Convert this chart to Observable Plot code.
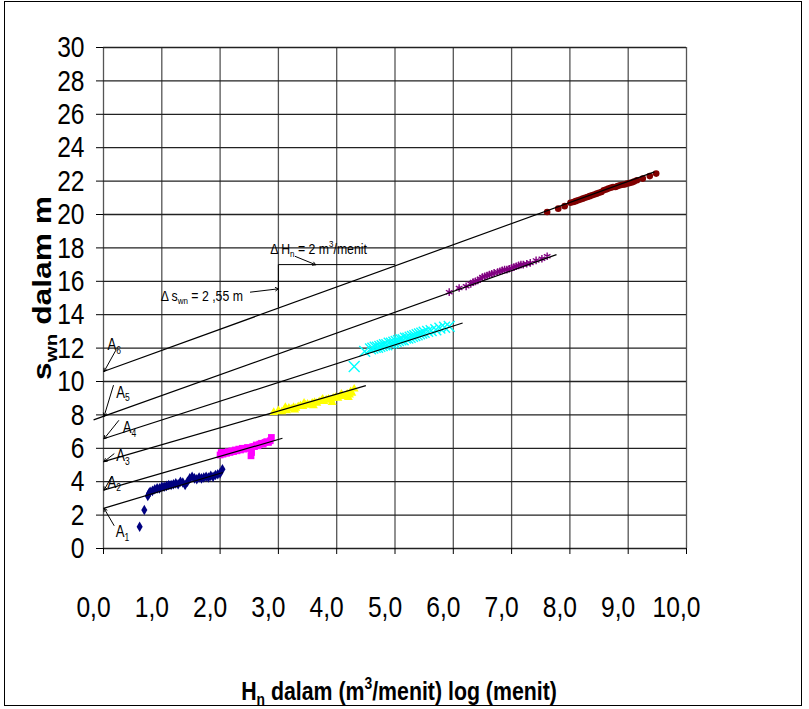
<!DOCTYPE html>
<html><head><meta charset="utf-8">
<script src="https://cdn.jsdelivr.net/npm/d3@7"></script>
<script src="https://cdn.jsdelivr.net/npm/@observablehq/plot@0.6"></script>
<style>body{margin:0;background:#fff}</style>
</head><body><div id="chart"></div>
<script>
// ---- axes ----
const xTicks = [0,1,2,3,4,5,6,7,8,9,10];
const xTickLabels = ["0,0","1,0","2,0","3,0","4,0","5,0","6,0","7,0","8,0","9,0","10,0"];
const yTicks = [0,2,4,6,8,10,12,14,16,18,20,22,24,26,28,30];
const xTitle = "H_{n} dalam (m^{3}/menit) log (menit)";
const yTitle = "s_{wn} dalam m";

// ---- measured series (H_n, s_wn) ----
const seriesA1 = [[0.62,1.3],[0.70,2.3],[0.76,3.15],[0.78,3.3],[0.80,3.4],[0.84,3.45],[0.88,3.55],[0.92,3.6],[0.96,3.6],[1.00,3.7],[1.04,3.7],[1.08,3.75],[1.12,3.8],[1.16,3.8],[1.20,3.85],[1.24,3.9],[1.28,3.85],[1.32,4.0],[1.36,3.95],[1.40,3.8],[1.44,4.0],[1.48,4.2],[1.52,4.3],[1.56,4.2],[1.60,4.15],[1.64,4.25],[1.68,4.2],[1.72,4.25],[1.76,4.3],[1.80,4.25],[1.84,4.35],[1.88,4.3],[1.92,4.4],[1.96,4.45],[2.00,4.5],[2.04,4.75]];
const seriesA2 = [[2.00,5.6],[2.02,5.75],[2.05,5.65],[2.08,5.75],[2.11,5.7],[2.14,5.8],[2.17,5.75],[2.20,5.85],[2.23,5.8],[2.26,5.9],[2.29,5.85],[2.32,5.95],[2.35,5.9],[2.38,6.0],[2.41,5.95],[2.44,6.0],[2.47,6.05],[2.50,6.0],[2.53,5.55],[2.54,5.75],[2.56,6.1],[2.59,6.1],[2.62,6.2],[2.65,6.15],[2.68,6.25],[2.71,6.3],[2.74,6.25],[2.77,6.35],[2.80,6.4],[2.83,6.35],[2.86,6.45],[2.88,6.65]];
const seriesA3 = [[2.92,8.15],[3.00,8.25],[3.06,8.2],[3.10,8.3],[3.12,8.45],[3.14,8.25],[3.18,8.4],[3.22,8.35],[3.26,8.45],[3.28,8.3],[3.30,8.4],[3.34,8.5],[3.38,8.55],[3.42,8.5],[3.44,8.7],[3.46,8.6],[3.50,8.65],[3.54,8.6],[3.58,8.7],[3.60,8.55],[3.62,8.75],[3.66,8.7],[3.70,8.8],[3.74,8.85],[3.76,8.95],[3.78,8.8],[3.82,8.9],[3.86,8.95],[3.90,8.9],[3.92,8.75],[3.94,9.0],[3.98,9.05],[4.02,9.0],[4.06,9.1],[4.08,9.25],[4.10,9.15],[4.14,9.1],[4.18,9.25],[4.20,9.05],[4.22,9.2],[4.24,9.4],[4.26,9.3],[4.30,9.55]];
const seriesA4 = [[4.30,10.9],[4.48,11.8],[4.58,11.95],[4.62,12.0],[4.66,12.05],[4.70,12.05],[4.74,12.1],[4.78,12.15],[4.82,12.2],[4.86,12.2],[4.90,12.3],[4.94,12.3],[4.98,12.35],[5.02,12.4],[5.06,12.45],[5.10,12.5],[5.14,12.5],[5.18,12.6],[5.22,12.6],[5.26,12.65],[5.30,12.7],[5.34,12.75],[5.38,12.8],[5.42,12.85],[5.46,12.9],[5.50,12.95],[5.56,13.0],[5.62,13.05],[5.70,13.1],[5.77,13.2],[5.85,13.25],[5.93,13.3]];
const seriesA5 = [[5.93,15.35],[6.10,15.6],[6.22,15.7],[6.30,15.85],[6.34,15.95],[6.38,16.0],[6.42,16.05],[6.46,16.15],[6.50,16.25],[6.54,16.3],[6.58,16.35],[6.62,16.4],[6.66,16.45],[6.70,16.5],[6.76,16.55],[6.80,16.6],[6.84,16.65],[6.88,16.7],[6.92,16.7],[6.96,16.75],[7.00,16.8],[7.04,16.85],[7.08,16.9],[7.12,16.95],[7.16,17.0],[7.20,17.0],[7.26,17.05],[7.32,17.1],[7.42,17.25],[7.52,17.35],[7.61,17.5]];
const seriesA6 = [[7.61,20.15],[7.80,20.35],[7.91,20.5],[8.01,20.7],[8.06,20.75],[8.10,20.8],[8.14,20.85],[8.18,20.9],[8.22,20.95],[8.26,21.0],[8.30,21.05],[8.34,21.1],[8.38,21.15],[8.42,21.2],[8.46,21.25],[8.50,21.3],[8.54,21.35],[8.58,21.45],[8.62,21.5],[8.66,21.55],[8.70,21.6],[8.74,21.65],[8.78,21.65],[8.82,21.7],[8.86,21.75],[8.90,21.78],[8.94,21.8],[8.98,21.85],[9.02,21.88],[9.06,21.92],[9.10,21.97],[9.15,22.05],[9.25,22.15],[9.37,22.3],[9.48,22.45]];

const seriesColors = ["#000080","#FF00FF","#FFFF00","#00FFFF","#800080","#800000"];
const seriesSymbols = ["diamond","square","triangle","times","asterisk","circle"];

// ---- trend lines A1..A6 (start / end points) ----
const trendNames = ["A1","A2","A3","A4","A5","A6"];
const trendX1 = [0, 0, 0, 0, -0.17, 0];
const trendY1 = [2.4, 3.5, 5.2, 6.57, 7.7, 10.6];
const trendX2 = [2.05, 3.07, 4.5, 6.16, 7.77, 9.45];
const trendY2 = [4.55, 6.6, 9.75, 13.5, 17.6, 22.55];
const intercepts = [2.4, 3.5, 5.2, 6.57, 7.92, 10.6];

// ---- annotation labels (data units) ----
const aLabels = ["A_{1}","A_{2}","A_{3}","A_{4}","A_{5}","A_{6}"];
const aLabelX = [0.21, 0.07, 0.22, 0.33, 0.22, 0.07];
const aLabelY = [0.66, 3.65, 5.21, 6.89, 9.04, 11.86];
const aArrowX = [0.18, 0.14, 0.18, 0.26, 0.17, 0.21];
const aArrowY = [1.38, 4.31, 5.67, 7.66, 9.76, 11.86];

const deltaTexts = ["Δ H_{n} = 2 m^{3}/menit", "Δ s_{wn} = 2 ,55 m"];
const deltaTextX = [2.86, 0.98];
const deltaTextY = [17.66, 14.85];
const deltaArrows = [{x1:3.29,y1:17.49,x2:3.64,y2:16.99},{x1:2.52,y1:15.35,x2:3.0,y2:15.55}];
const deltaH = {x1:3, x2:5, y:17.0};
const deltaS = {x:3, y1:17.0, y2:14.45};

const FONT = '"Liberation Sans",Arial,sans-serif';
const NARROW = 0.82;
const TITLE_STRETCH = 1.22;

const allSeries = [seriesA1,seriesA2,seriesA3,seriesA4,seriesA5,seriesA6];
const dotMarks = allSeries.map((s, i) => {
  const stroked = seriesSymbols[i] === "times" || seriesSymbols[i] === "asterisk";
  const r = {diamond:3.2, square:3.8, triangle:3.3, times:5, asterisk:3.6, circle:3.3}[seriesSymbols[i]];
  return Plot.dot(s, {x: d => d[0], y: d => d[1], symbol: seriesSymbols[i], r,
    fill: stroked ? "none" : seriesColors[i], stroke: stroked ? seriesColors[i] : "none", strokeWidth: 1.4});
});

const trends = trendNames.map((n, i) => ({x1: trendX1[i], y1: trendY1[i], x2: trendX2[i], y2: trendY2[i]}));
const aLab = aLabels.map((t, i) => ({t, x: aLabelX[i], y: aLabelY[i]}));
const aArr = aLabels.map((t, i) => ({x1: aArrowX[i], y1: aArrowY[i], x2: 0.01, y2: intercepts[i]}));
const dTxt = deltaTexts.map((t, i) => ({t, x: deltaTextX[i], y: deltaTextY[i]}));

const chart = Plot.plot({
  width: 809, height: 709,
  marginLeft: 103, marginRight: 123, marginTop: 47, marginBottom: 161,
  x: {domain: [0, 10], axis: null},
  y: {domain: [0, 30], axis: null},
  style: {fontFamily: FONT, fontSize: "30px", background: "white", color: "black", overflow: "visible"},
  marks: [
    Plot.ruleX(xTicks, {stroke: "#555", strokeWidth: 1.3}),
    Plot.ruleY(yTicks, {stroke: "#222", strokeWidth: 1.3}),
    Plot.axisY(yTicks, {tickSize: 7, tickPadding: 12, fontSize: 30, label: null}),
    Plot.axisX(xTicks, {tickSize: 6, tickFormat: () => "", label: null}),
    Plot.text(xTicks, {x: d => d, text: (d, i) => xTickLabels[i], frameAnchor: "bottom", lineAnchor: "top", dy: 47, dx: -10, fontSize: 30}),
    ...dotMarks,
    Plot.link(trends, {x1: "x1", y1: "y1", x2: "x2", y2: "y2", stroke: "black", strokeWidth: 1.2}),
    Plot.link([deltaH], {x1: "x1", x2: "x2", y1: "y", y2: "y", stroke: "black", strokeWidth: 1}),
    Plot.link([deltaS], {x1: "x", x2: "x", y1: "y1", y2: "y2", stroke: "black", strokeWidth: 1}),
    Plot.arrow(aArr, {x1: "x1", y1: "y1", x2: "x2", y2: "y2", stroke: "black", strokeWidth: 1, headLength: 5}),
    Plot.arrow(deltaArrows, {x1: "x1", y1: "y1", x2: "x2", y2: "y2", stroke: "black", strokeWidth: 1, headLength: 5}),
    Plot.text(aLab, {x: "x", y: "y", text: "t", textAnchor: "start", lineAnchor: "bottom", fontSize: 16}),
    Plot.text(dTxt, {x: "x", y: "y", text: "t", textAnchor: "start", lineAnchor: "bottom", fontSize: 15}),
    Plot.text([xTitle], {text: d => d, frameAnchor: "bottom", textAnchor: "middle", lineAnchor: "bottom", dy: 151, dx: 4, fontSize: 26, fontWeight: "bold"}),
    Plot.text([yTitle], {text: d => d, frameAnchor: "left", textAnchor: "middle", lineAnchor: "middle", rotate: -90, dx: -61, dy: -10, fontSize: 26, fontWeight: "bold"})
  ]
});

document.getElementById("chart").appendChild(chart);

// outer border
d3.select(chart).append("rect").attr("x", 4.5).attr("y", 1.5).attr("width", 797).attr("height", 704)
  .attr("fill", "none").attr("stroke", "black").attr("stroke-width", 1);

// condensed (Arial Narrow-like) text: horizontal squeeze about each text anchor;
// the vertical axis title is instead drawn wider along its direction
chart.querySelectorAll("text").forEach(t => {
  const k = t.textContent === yTitle ? TITLE_STRETCH : NARROW;
  const tr = t.getAttribute("transform");
  if (tr) {
    t.setAttribute("transform", tr + ` scale(${k},1)`);
  } else {
    const x = +(t.getAttribute("x") || 0), y = t.getAttribute("y");
    const yNum = y && !/em$/.test(y) ? +y : 0;
    if (y && !/em$/.test(y)) t.removeAttribute("y");
    t.removeAttribute("x");
    t.setAttribute("transform", `translate(${x},${yNum}) scale(${k},1)`);
  }
});

// sub/superscript rendering
chart.querySelectorAll("text").forEach(t => {
  const s = t.textContent;
  if (!/[_^]\{/.test(s)) return;
  const fs = parseFloat(getComputedStyle(t).fontSize);
  t.textContent = "";
  const re = /([_^])\{([^}]*)\}/g;
  let last = 0, m, shift = 0;
  const add = (str, kind) => {
    const ts = document.createElementNS("http://www.w3.org/2000/svg", "tspan");
    ts.textContent = str;
    const target = kind === "_" ? 0.22 * fs : kind === "^" ? -0.42 * fs : 0;
    ts.setAttribute("dy", target - shift);
    shift = target;
    if (kind) ts.setAttribute("font-size", 0.65 * fs);
    t.appendChild(ts);
  };
  while ((m = re.exec(s))) {
    if (m.index > last) add(s.slice(last, m.index), null);
    add(m[2], m[1]);
    last = re.lastIndex;
  }
  if (last < s.length) add(s.slice(last), null);
});
</script></body></html>
